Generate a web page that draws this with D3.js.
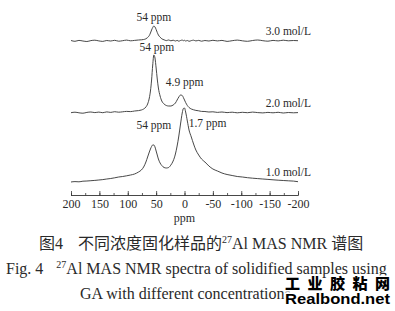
<!DOCTYPE html>
<html>
<head>
<meta charset="UTF-8" />
<style>
  body { margin: 0; background: #fff; }
  svg { display: block; }
  .serif { font-family: "Liberation Serif", "DejaVu Serif", serif; fill: #2a2a2a; }
  .cjk { font-family: "Noto Sans CJK SC", sans-serif; }
</style>
</head>
<body>
<svg></svg>
<script src="https://d3js.org/d3.v7.min.js"></script>
<script>
  let width = 395, height = 311;
  let svg = d3.select("svg").attr("width", width).attr("height", height);

  // chemical shift grid (ppm) shared by all spectra
  const shifts = [200,193,186,179,172,165,158,151,144,137,130,123,116,109,102,95,88,81,
    76,72,68,65,62,60,58,56,54,52,50,48,46,43,40,36,32,28,24,20,16,13,10,7,4,2,0,-2,-5,-8,
    -12,-16,-20,-25,-30,-36,-43,-50,
    -58,-66,-75,-84,-93,-102,-111,-120,-129,-138,-147,-156,-165,-174,-183,-192,-200];

  // intensities (arbitrary units)
  const int10 = [0,0.4,0.2,0.8,1.0,1.3,1.6,2.0,2.4,3.0,3.5,4.2,5.0,5.5,6.2,7,8,10,
    12,15,20,25,30,33,35.5,37,37,35,31,27,23,19,16.5,14.5,14,14.5,17,21,28,36,46,58,69,73.5,74,70,61,52,
    45,38,32,27,23,20,16,13,
    11,9,7.5,6.5,5.5,5,4.3,3.8,3.4,3,2.6,2.2,1.8,1.5,1.2,0.9,0.3];
  const int20 = [0.3,0.8,0.2,-0.2,0.6,1.0,0.4,0.9,0.3,1.1,0.6,1.3,0.8,1.2,1.6,1.4,2.0,2.4,
    3,4,6,9,15,22,33,48,58,55,45,34,25,17,12,9,7.5,7,7,8,10,13,16,18,17.5,15.5,13,10.5,7.5,5.5,
    4,3.2,2.6,2.2,1.6,1.5,1,1.2,
    0.6,1.0,0.4,0.8,0.2,0.7,0.3,0.9,0.4,0.1,0.6,0.2,0.7,0,0.5,0.2,0.4];
  const int30 = [0.5,-0.3,0.6,0,-0.5,0.4,0.8,0.1,-0.4,0.5,0,0.7,-0.2,0.3,0.9,0.2,0.6,1.0,
    1.2,1.5,2.2,3.5,5.5,8,11,13.5,15,14,11.5,8.5,6,3.8,2.2,1.2,0.4,1,0.2,0.8,0,0.6,-0.2,0.5,0.9,0.3,0.7,0,0.5,-0.3,
    0.4,0.8,0.1,0.6,-0.2,0.5,0,0.7,
    0.1,0.6,-0.4,0.3,0.9,0.2,-0.3,0.5,1.0,0.3,-0.2,0.6,0.1,0.8,0.2,0.5,0.3];

  const seriesNames = ["1.0 mol/L", "2.0 mol/L", "3.0 mol/L"];
  const seriesData = [int10, int20, int30];
  const stackOffset = [14, 83, 155];

  // peak annotations: [series index, ppm, label]
  const peakLabels = [
    [2, 54, "54 ppm"],
    [1, 54, "54 ppm"],
    [1, 4.9, "4.9 ppm"],
    [0, 54, "54 ppm"],
    [0, 1.7, "1.7 ppm"]
  ];

  const majorTicks = [200,150,100,50,0,-50,-100,-150,-200];
  const minorTicks = d3.range(200, -201, -25);

  let x = d3.scaleLinear().domain([200, -200]).range([71, 298]);
  let y = d3.scaleLinear().domain([0, 200]).range([196, -4]);

  let line = d3.line()
    .x((d) => x(d[0]))
    .y((d) => y(d[1]))
    .curve(d3.curveMonotoneX);

  seriesData.forEach(function (vals, i) {
    let pts = shifts.map((s, k) => [s, vals[k] + stackOffset[i]]);
    svg.append("path")
      .attr("d", line(pts))
      .attr("fill", "none")
      .attr("stroke", "#333")
      .attr("stroke-width", 0.9);

    svg.append("text")
      .attr("class", "serif")
      .attr("x", x(-200) + 13)
      .attr("y", y(stackOffset[i]) - 6)
      .attr("text-anchor", "end")
      .style("font-size", "11.5px")
      .text(seriesNames[i]);
  });

  // peak labels (placed above the peaks)
  let labelPos = {
    "2|54": [0, -5],
    "1|54": [3, -4],
    "1|4.9": [3, -9],
    "0|54": [0, -16],
    "0|1.7": [24, 19]
  };
  peakLabels.forEach(function (p) {
    let vals = seriesData[p[0]];
    let k = d3.minIndex(shifts, (s) => Math.abs(s - p[1]));
    let top = d3.max(vals.slice(Math.max(0, k - 2), k + 3)) + stackOffset[p[0]];
    let off = labelPos[p[0] + "|" + p[1]];
    svg.append("text")
      .attr("class", "serif")
      .attr("x", x(p[1]) + off[0])
      .attr("y", y(top) + off[1])
      .attr("text-anchor", "middle")
      .style("font-size", "11.5px")
      .text(p[2]);
  });

  // axis
  let axisY = 195.5;
  svg.append("g")
    .attr("transform", "translate(0," + axisY + ")")
    .call(d3.axisBottom(x).tickValues(minorTicks).tickSize(-2.5).tickSizeOuter(0).tickFormat(""))
    .call((g) => g.select(".domain").remove())
    .selectAll("line").attr("stroke", "#333").attr("stroke-width", 0.8);

  let ax = svg.append("g")
    .attr("transform", "translate(0," + axisY + ")")
    .call(d3.axisBottom(x).tickValues(majorTicks).tickSize(-4.5).tickSizeOuter(0).tickPadding(3.5));
  ax.select(".domain").attr("d", "M" + x(200) + ",0H" + x(-200)).attr("stroke", "#333").attr("stroke-width", 0.9);
  ax.selectAll("line").attr("stroke", "#333").attr("stroke-width", 0.8);
  ax.selectAll("text")
    .attr("class", "serif")
    .style("font-size", "12px")
    .attr("font-family", null)
    .text((d) => d);

  svg.append("text")
    .attr("class", "serif")
    .attr("x", x(0))
    .attr("y", 222)
    .attr("text-anchor", "middle")
    .style("font-size", "12px")
    .text("ppm");

  // captions
  let cap1 = svg.append("text")
    .attr("class", "serif")
    .attr("x", 39)
    .attr("y", 249)
    .style("font-size", "16px");
  cap1.append("tspan").attr("class", "cjk").text("图");
  cap1.append("tspan").text("4");
  cap1.append("tspan").attr("class", "cjk").attr("dx", 15).text("不同浓度固化样品的");
  cap1.append("tspan").attr("dy", -6).style("font-size", "10px").text("27");
  cap1.append("tspan").attr("dy", 6).text("Al MAS NMR ");
  cap1.append("tspan").attr("class", "cjk").text("谱图");

  let cap2 = svg.append("text")
    .attr("class", "serif")
    .attr("x", 6)
    .attr("y", 274)
    .style("font-size", "16px");
  cap2.append("tspan").text("Fig. 4");
  cap2.append("tspan").attr("dx", 13).attr("dy", -6).style("font-size", "10px").text("27");
  cap2.append("tspan").attr("dy", 6).text("Al MAS NMR spectra of solidified samples using");

  svg.append("text")
    .attr("class", "serif")
    .attr("x", 80)
    .attr("y", 299)
    .style("font-size", "16px")
    .text("GA with different concentrations");

  // watermark
  svg.append("text")
    .attr("x", 285)
    .attr("y", 289)
    .attr("textLength", 105)
    .attr("lengthAdjust", "spacing")
    .style("font-family", "'Noto Sans CJK SC', sans-serif")
    .style("font-weight", 900)
    .style("font-size", "15px")
    .attr("fill", "#000")
    .attr("stroke", "#fff").attr("stroke-width", 3).attr("paint-order", "stroke")
    .text("工业胶粘网");
  svg.append("text")
    .attr("x", 285)
    .attr("y", 304)
    .attr("textLength", 105)
    .attr("lengthAdjust", "spacingAndGlyphs")
    .style("font-family", "'Liberation Sans', Arial, sans-serif")
    .style("font-weight", "bold")
    .style("font-size", "15px")
    .attr("fill", "#000")
    .attr("stroke", "#fff").attr("stroke-width", 3).attr("paint-order", "stroke")
    .text("Realbond.net");
</script>
</body>
</html>
